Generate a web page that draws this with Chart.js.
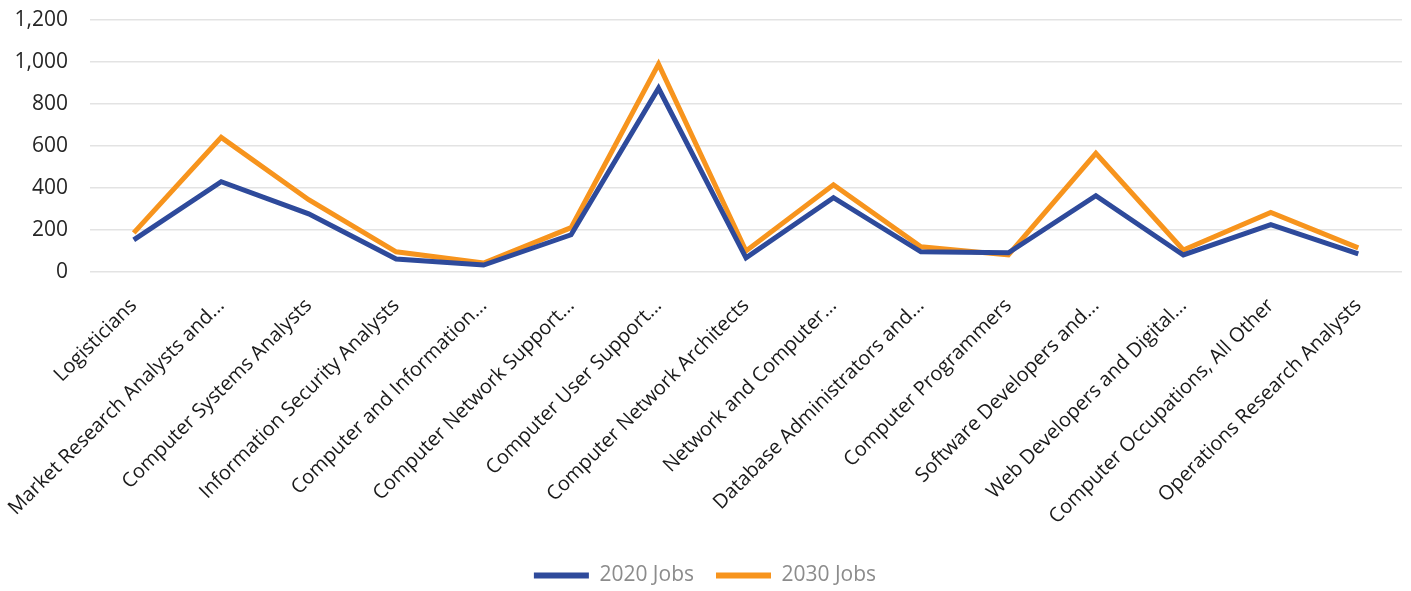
<!DOCTYPE html>
<html>
<head>
<meta charset="utf-8">
<script src="https://cdn.jsdelivr.net/npm/chart.js@4"></script>
<style>
  html, body { margin: 0; padding: 0; background: #fff; }
  #wrap { width: 1411px; height: 591px; }
</style>
</head>
<body>
<div id="wrap"><canvas id="jobsChart"></canvas></div>
<script>
// occupations (labels truncated as in the source chart)
var occupations = [
  'Logisticians',
  'Market Research Analysts and...',
  'Computer Systems Analysts',
  'Information Security Analysts',
  'Computer and Information...',
  'Computer Network Support...',
  'Computer User Support...',
  'Computer Network Architects',
  'Network and Computer...',
  'Database Administrators and...',
  'Computer Programmers',
  'Software Developers and...',
  'Web Developers and Digital...',
  'Computer Occupations, All Other',
  'Operations Research Analysts'
];
var jobs2020 = [153, 430, 277, 62, 33, 177, 875, 67, 354, 96, 91, 363, 81, 225, 86];
var jobs2030 = [186, 641, 344, 96, 43, 211, 990, 100, 415, 120, 81, 565, 105, 283, 115];
var yTicks = [0, 200, 400, 600, 800, 1000, 1200];

var blue = '#2e4a9b';
var orange = '#f7941d';
var font = "'Open Sans', sans-serif";

var ctx = document.getElementById('jobsChart').getContext('2d');
var jobsChart = new Chart(ctx, {
  type: 'line',
  data: {
    labels: occupations,
    datasets: [{
      label: '2020 Jobs',
      data: jobs2020,
      borderColor: blue,
      backgroundColor: blue,
      borderWidth: 5,
      pointRadius: 0,
      tension: 0
    }, {
      label: '2030 Jobs',
      data: jobs2030,
      borderColor: orange,
      backgroundColor: orange,
      borderWidth: 5,
      pointRadius: 0,
      tension: 0
    }]
  },
  options: {
    responsive: true,
    maintainAspectRatio: false,
    animation: false,
    layout: { padding: { top: 20, right: 9, left: 8, bottom: -5 } },
    plugins: {
      tooltip: { enabled: false },
      legend: {
        position: 'bottom',
        labels: {
          font: { family: font, size: 21 },
          color: '#8c8c8c',
          boxWidth: 55,
          boxHeight: 6,
          padding: 22,
          generateLabels: function (chart) {
            return Chart.defaults.plugins.legend.labels.generateLabels(chart).map(function (l) {
              l.lineWidth = 0;
              l.fillStyle = l.strokeStyle;
              return l;
            });
          }
        }
      }
    },
    scales: {
      x: {
        offset: true,
        grid: { display: false },
        border: { display: false },
        afterFit: function (axis) {
          axis.paddingLeft = 0;
          axis.paddingRight = 0;
        },
        ticks: {
          autoSkip: false,
          minRotation: 45,
          maxRotation: 45,
          padding: 14,
          color: '#1a1a1a',
          font: { family: font, size: 20 }
        }
      },
      y: {
        min: yTicks[0],
        max: yTicks[yTicks.length - 1],
        afterBuildTicks: function (axis) {
          axis.ticks = yTicks.map(function (v) { return { value: v }; });
        },
        afterFit: function (axis) {
          axis.width = 82;
          axis.paddingTop = 0;
          axis.paddingBottom = 0;
        },
        grid: { color: '#e3e3e3', lineWidth: 1.5, drawTicks: false },
        border: { display: false },
        ticks: {
          padding: 22,
          color: '#262626',
          font: { family: font, size: 21 },
          callback: function (v) { return v.toLocaleString('en-US'); }
        }
      }
    }
  }
});
</script>
</body>
</html>
